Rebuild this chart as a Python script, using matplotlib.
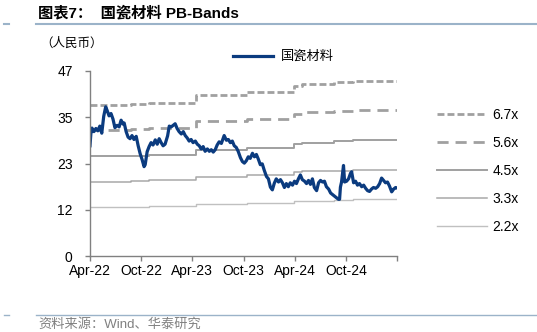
import matplotlib
matplotlib.use('Agg')
import matplotlib.pyplot as plt
from matplotlib.lines import Line2D
import pandas as pd

plt.rcParams['font.family'] = ['Liberation Sans', 'Noto Sans CJK SC']
plt.rcParams['lines.scale_dashes'] = False

# 国瓷材料 收盘价 (人民币)
price_dates = [
    '2022-04-01', '2022-04-04', '2022-04-08', '2022-04-15', '2022-04-22', '2022-04-29',
    '2022-05-06', '2022-05-13', '2022-05-20', '2022-05-27', '2022-06-01', '2022-06-08',
    '2022-06-15', '2022-06-22', '2022-06-29', '2022-07-07', '2022-07-14', '2022-07-21',
    '2022-07-28', '2022-08-01', '2022-08-08', '2022-08-15', '2022-08-22', '2022-08-29',
    '2022-09-05', '2022-09-13', '2022-09-20', '2022-09-27', '2022-10-04', '2022-10-11',
    '2022-10-15', '2022-10-22', '2022-10-29', '2022-11-05', '2022-11-12', '2022-11-20',
    '2022-11-27', '2022-12-04', '2022-12-11', '2022-12-18', '2022-12-25', '2023-01-03',
    '2023-01-09', '2023-01-16', '2023-01-23', '2023-01-30', '2023-02-06', '2023-02-13',
    '2023-02-21', '2023-02-28', '2023-03-07', '2023-03-14', '2023-03-21', '2023-03-28',
    '2023-04-04', '2023-04-12', '2023-04-19', '2023-04-26', '2023-05-03', '2023-05-10',
    '2023-05-17', '2023-05-25', '2023-06-01', '2023-06-08', '2023-06-15', '2023-06-22',
    '2023-06-29', '2023-07-06', '2023-07-14', '2023-07-21', '2023-07-24', '2023-08-01',
    '2023-08-08', '2023-08-15', '2023-08-22', '2023-08-29', '2023-09-05', '2023-09-12',
    '2023-09-20', '2023-09-27', '2023-10-04', '2023-10-11', '2023-10-18', '2023-10-25',
    '2023-11-02', '2023-11-09', '2023-11-16', '2023-11-23', '2023-11-30', '2023-12-07',
    '2023-12-14', '2023-12-22', '2023-12-29', '2024-01-05', '2024-01-12', '2024-01-19',
    '2024-01-26', '2024-02-03', '2024-02-10', '2024-02-17', '2024-02-24', '2024-03-02',
    '2024-03-09', '2024-03-16', '2024-03-24', '2024-03-31', '2024-04-07', '2024-04-14',
    '2024-04-21', '2024-04-28', '2024-05-06', '2024-05-13', '2024-05-20', '2024-05-27',
    '2024-06-03', '2024-06-10', '2024-06-18', '2024-06-25', '2024-07-02', '2024-07-09',
    '2024-07-16', '2024-07-23', '2024-07-31', '2024-08-07', '2024-08-14', '2024-08-21',
    '2024-08-28', '2024-09-04', '2024-09-08', '2024-09-11', '2024-09-15', '2024-09-22',
    '2024-09-26', '2024-10-03', '2024-10-10', '2024-10-17', '2024-10-21', '2024-10-28',
    '2024-11-04', '2024-11-11', '2024-11-18', '2024-11-26', '2024-12-03', '2024-12-10',
    '2024-12-17', '2024-12-24', '2024-12-31', '2025-01-07', '2025-01-15', '2025-01-22',
    '2025-01-29', '2025-02-05', '2025-02-12', '2025-02-19', '2025-02-26', '2025-03-05',
    '2025-03-13', '2025-03-20', '2025-03-27', '2025-03-31',
]
price = [
    28.0, 31.0, 32.5, 31.6, 32.4, 31.8,
    33.0, 31.2, 35.5, 37.9, 37.0, 35.6,
    36.2, 34.8, 32.6, 33.2, 32.8, 34.5,
    33.5, 33.8, 31.6, 30.2, 29.8, 30.6,
    29.6, 30.4, 28.0, 26.0, 24.5, 22.7,
    23.2, 26.5, 27.8, 28.8, 28.2, 29.5,
    28.4, 29.8, 28.8, 28.0, 28.4, 30.5,
    33.0, 32.8, 33.2, 33.6, 32.4, 31.6,
    31.0, 31.6, 30.6, 30.0, 29.2, 29.6,
    28.8, 29.2, 28.4, 28.0, 27.2, 27.8,
    26.6, 27.2, 26.6, 27.0, 26.4, 27.0,
    28.2, 29.0, 28.6, 30.0, 30.6, 29.4,
    29.6, 28.8, 29.2, 28.0, 27.6, 26.6,
    25.0, 24.0, 23.6, 24.2, 25.2, 24.8,
    26.1, 25.2, 25.8, 24.6, 23.2, 23.4,
    21.8, 20.2, 19.6, 17.5, 16.8, 18.5,
    19.6, 18.8, 19.4, 18.6, 17.4, 18.4,
    17.6, 18.6, 18.0, 19.0, 18.4, 19.6,
    20.6, 19.4, 19.0, 18.4, 19.2, 18.2,
    19.6, 17.4, 16.6, 18.6, 19.2, 18.8,
    19.0, 17.6, 17.0, 16.0, 15.6, 15.2,
    14.8, 14.4, 14.4, 17.5, 18.8, 23.0,
    18.8, 19.0, 19.6, 21.0, 21.4, 18.6,
    19.0, 18.0, 18.4, 17.6, 18.0, 17.2,
    16.6, 16.4, 17.0, 17.4, 17.2, 17.6,
    18.4, 19.8, 19.2, 18.6, 18.8, 17.8,
    16.3, 17.0, 17.4, 17.3,
]

# PB band levels, stepping at report dates
band_dates = ['2022-04-01', '2022-08-26', '2022-10-28', '2023-04-15', '2023-10-15',
              '2024-03-28', '2024-04-28', '2024-08-20', '2024-10-25', '2025-03-31']
band_67 = [38.3, 38.6, 38.9, 40.9, 41.7, 43.2, 43.7, 44.1, 44.5, 44.5]
band_56 = [32.0, 32.3, 32.5, 34.2, 34.8, 36.1, 36.5, 36.8, 37.2, 37.2]
band_45 = [25.3, 25.5, 25.7, 27.0, 27.5, 28.5, 28.8, 29.1, 29.5, 29.5]
band_33 = [18.9, 19.0, 19.2, 20.1, 20.5, 21.3, 21.5, 21.7, 21.9, 21.9]
band_22 = [12.4, 12.5, 12.6, 13.2, 13.5, 14.0, 14.1, 14.3, 14.4, 14.4]

y_ticks = [0, 11.75, 23.5, 35.25, 47]
y_labels = ['0', '12', '23', '35', '47']
x_ticks = ['2022-04-01', '2022-10-01', '2023-04-01', '2023-10-01',
           '2024-04-01', '2024-10-01', '2025-04-01']
x_labels = ['Apr-22', 'Oct-22', 'Apr-23', 'Oct-23', 'Apr-24', 'Oct-24', '']

fig = plt.figure(figsize=(5.37, 3.32), dpi=100)
ax = fig.add_axes([90 / 537, 1 - 256 / 332, 307 / 537, 185 / 332])

bd = pd.to_datetime(band_dates)
h67, = ax.plot(bd, band_67, drawstyle='steps-post', color='#a0a0a0', lw=2.0, dashes=(5, 2.2))
h56, = ax.plot(bd, band_56, drawstyle='steps-post', color='#a0a0a0', lw=2.0, dashes=(8, 5))
h45, = ax.plot(bd, band_45, drawstyle='steps-post', color='#a0a0a0', lw=1.4)
h33, = ax.plot(bd, band_33, drawstyle='steps-post', color='#a8a8a8', lw=1.1)
h22, = ax.plot(bd, band_22, drawstyle='steps-post', color='#c0c0c0', lw=1.0)
hp, = ax.plot(pd.to_datetime(price_dates), price, color='#0b3b7f', lw=2.3)

ax.set_xlim(pd.Timestamp('2022-04-01'), pd.Timestamp('2025-04-01'))
ax.set_ylim(0, 47)
ax.set_yticks(y_ticks)
ax.set_yticklabels(y_labels)
ax.set_xticks(pd.to_datetime(x_ticks))
ax.set_xticklabels(x_labels)

for s in ['top', 'right']:
    ax.spines[s].set_visible(False)
for s in ['left', 'bottom']:
    ax.spines[s].set_color('#808080')
    ax.spines[s].set_linewidth(1.0)
ax.tick_params(axis='both', colors='#808080', labelcolor='black', labelsize=10,
               length=3.5, width=1.0, direction='out')
ax.tick_params(axis='y', pad=9)
ax.tick_params(axis='x', pad=2)

fig.legend([hp], ['国瓷材料'], loc='center left', bbox_to_anchor=(233 / 537, 1 - 57 / 332),
           frameon=False, fontsize=9.5, handlelength=3.0, handletextpad=0.6,
           borderpad=0, borderaxespad=0)
fig.legend([h67, h56, h45, h33, h22], ['6.7x', '5.6x', '4.5x', '3.3x', '2.2x'],
           loc='upper left', bbox_to_anchor=(437 / 537, 1 - 108 / 332),
           frameon=False, fontsize=10, handlelength=3.6, handletextpad=0.4,
           labelspacing=1.0, borderpad=0, borderaxespad=0)

fig.text(38 / 537, 1 - 13 / 332, '图表7：  国瓷材料 PB-Bands', fontsize=11,
         fontweight='bold', va='center', ha='left')
fig.text(40 / 537, 1 - 44 / 332, '（人民币）', fontsize=9, va='center', ha='left')
fig.text(38 / 537, 1 - 324 / 332, '资料来源：Wind、华泰研究', fontsize=9.5,
         color='#808080', va='center', ha='left')

rule = '#9bb3c9'
fig.add_artist(Line2D([36 / 537, 1], [1 - 24 / 332] * 2, color=rule, lw=1.5))
fig.add_artist(Line2D([4 / 537, 9 / 537], [1 - 24 / 332] * 2, color=rule, lw=1.5))
fig.add_artist(Line2D([36 / 537, 1], [1 - 315 / 332] * 2, color=rule, lw=1.0))
fig.add_artist(Line2D([4 / 537, 9 / 537], [1 - 315 / 332] * 2, color=rule, lw=1.0))

fig.savefig('out.png', dpi=100)
